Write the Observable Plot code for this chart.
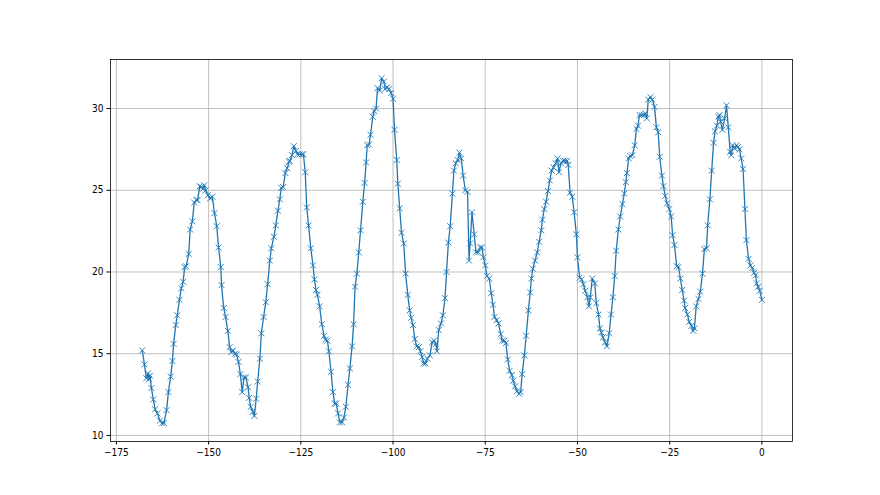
<!DOCTYPE html>
<html><head><meta charset="utf-8">
<script src="https://cdn.jsdelivr.net/npm/d3@7"></script>
<script src="https://cdn.jsdelivr.net/npm/@observablehq/plot@0.6"></script>
<style>
html,body{margin:0;padding:0;background:#fff;}
svg text{font-family:"DejaVu Sans Condensed","DejaVu Sans",sans-serif;font-stretch:condensed;}
</style></head><body><div id="chart"></div>
<script>
const hours = [
-168.0,-167.4,-166.9,-166.4,-166.2,-165.9,-165.5,-165.0,-164.5,-163.9,-163.2,-162.6,-162.1,-161.4,-160.9,-160.3,-159.8,-159.5,-158.9,-158.5,
-157.9,-157.4,-156.9,-156.5,-156.1,-155.4,-155.0,-154.4,-153.9,-153.3,-153.0,-152.4,-152.0,-151.5,-151.2,-150.8,-150.2,-149.6,-149.0,-148.4,
-147.8,-147.3,-146.7,-146.5,-145.9,-145.4,-144.8,-144.3,-143.8,-143.4,-142.8,-142.4,-141.9,-141.4,-140.9,-140.4,-139.9,-139.3,-139.0,-138.6,
-138.0,-137.6,-137.1,-136.7,-136.1,-135.7,-135.1,-134.5,-134.0,-133.4,-133.0,-132.3,-131.8,-131.2,-130.7,-130.3,-129.8,-129.2,-128.7,-128.2,
-128.0,-127.4,-126.9,-126.3,-125.9,-125.3,-124.7,-124.3,-123.8,-123.4,-122.9,-122.3,-121.7,-121.3,-120.9,-120.5,-119.9,-119.3,-118.7,-118.3,
-117.8,-117.4,-116.8,-116.3,-115.8,-115.4,-114.9,-114.4,-113.8,-113.3,-112.8,-112.2,-111.7,-111.1,-110.7,-110.3,-109.8,-109.3,-108.8,-108.2,
-107.7,-107.3,-107.0,-106.5,-106.1,-105.5,-105.1,-104.6,-104.2,-103.6,-103.1,-102.5,-102.1,-101.6,-101.1,-100.5,-100.0,-99.6,-99.0,-98.7,
-98.2,-97.7,-97.1,-96.6,-96.0,-95.5,-95.1,-94.6,-94.1,-93.6,-93.0,-92.6,-92.1,-91.7,-91.2,-90.7,-90.0,-89.4,-88.9,-88.4,
-88.1,-87.6,-87.0,-86.5,-85.9,-85.5,-85.0,-84.5,-83.9,-83.5,-83.0,-82.5,-82.0,-81.5,-81.0,-80.4,-79.8,-79.4,-79.1,-78.6,
-78.0,-77.5,-76.9,-76.4,-75.9,-75.5,-75.0,-74.5,-73.9,-73.4,-72.9,-72.5,-71.9,-71.4,-70.8,-70.4,-69.8,-69.4,-68.9,-68.4,
-67.8,-67.4,-66.9,-66.4,-65.8,-65.4,-65.0,-64.4,-63.9,-63.3,-62.8,-62.5,-62.1,-61.5,-60.9,-60.4,-59.8,-59.5,-59.0,-58.5,
-58.0,-57.5,-57.0,-56.5,-55.9,-55.4,-55.0,-54.5,-53.9,-53.4,-52.8,-52.5,-52.0,-51.4,-50.9,-50.3,-50.0,-49.4,-48.9,-48.4,
-47.9,-47.3,-46.9,-46.5,-46.0,-45.3,-44.9,-44.3,-43.9,-43.5,-43.1,-42.5,-42.0,-41.4,-40.9,-40.4,-39.9,-39.5,-38.9,-38.4,
-37.8,-37.3,-36.9,-36.6,-36.1,-35.7,-35.1,-34.5,-34.0,-33.6,-33.2,-32.6,-32.0,-31.6,-31.2,-30.8,-30.2,-29.7,-29.1,-28.6,
-28.1,-27.7,-27.1,-26.7,-26.2,-25.7,-25.1,-24.6,-24.2,-23.7,-23.1,-22.6,-22.1,-21.6,-21.1,-20.8,-20.2,-19.7,-19.1,-18.6,
-18.3,-17.8,-17.2,-16.7,-16.1,-15.6,-15.0,-14.7,-14.1,-13.6,-13.1,-12.7,-12.2,-11.8,-11.5,-11.2,-10.7,-10.1,-9.6,-9.1,
-8.6,-8.3,-7.9,-7.4,-6.9,-6.5,-6.1,-5.6,-5.1,-4.6,-4.2,-3.6,-3.1,-2.6,-2.1,-1.7,-1.4,-1.0,-0.6,0.0
];
const temps = [
15.2,14.35,13.5,13.8,13.45,13.65,12.9,12.2,11.6,11.35,10.9,10.75,10.75,11.55,12.65,13.6,14.55,15.6,16.75,17.35,
18.3,19.0,19.4,20.3,20.35,21.1,22.6,23.1,24.25,24.4,24.4,25.25,25.2,25.1,25.3,25.0,24.7,24.5,24.6,23.6,
22.8,21.5,20.3,19.2,17.8,17.25,16.4,15.4,15.1,15.2,15.0,14.95,14.5,13.75,12.65,13.55,13.55,12.95,12.3,11.75,
11.45,11.2,12.25,13.3,14.7,16.25,17.25,18.15,19.25,20.7,21.45,22.15,22.85,23.75,24.45,25.15,25.2,26.05,26.35,26.75,
26.8,27.15,27.7,27.4,27.2,27.2,27.2,27.2,26.1,23.95,22.85,21.45,20.4,19.55,18.9,18.6,17.9,16.8,16.1,15.85,
15.8,15.15,13.9,12.65,11.95,11.95,11.35,10.8,10.8,11.1,11.75,13.1,14.1,15.45,16.8,19.1,19.9,21.2,22.55,24.3,
25.45,26.7,27.75,27.8,28.4,29.5,29.85,30.0,31.25,31.1,31.85,31.65,31.2,31.3,31.2,30.95,30.6,28.7,26.85,25.4,
23.9,22.4,21.75,19.9,18.6,17.65,17.2,16.75,15.9,15.45,15.4,15.15,14.8,14.4,14.4,14.7,14.9,15.7,15.8,15.6,
15.15,16.45,16.85,17.35,18.4,20.0,21.8,22.8,24.8,26.2,26.65,26.85,27.3,26.95,25.9,25.0,24.9,20.7,21.75,23.65,
22.3,21.2,21.2,21.5,21.5,20.9,20.4,19.75,19.6,18.7,18.0,17.25,17.05,16.85,16.2,15.8,15.8,15.65,14.65,13.95,
13.7,13.35,13.0,12.7,12.55,12.65,13.75,14.9,16.1,17.65,18.75,19.6,20.2,20.7,21.2,21.85,22.55,23.2,23.85,24.3,
24.95,25.6,26.2,26.4,26.65,26.95,26.1,26.65,26.8,26.8,26.8,26.55,24.85,24.6,23.65,22.3,20.9,19.65,19.55,19.25,
18.85,18.45,17.9,18.45,19.6,19.3,18.1,17.4,16.55,16.3,16.0,15.7,15.45,16.25,17.4,18.45,19.75,21.3,22.6,23.4,
24.15,24.8,25.5,26.05,26.95,27.1,27.15,27.75,28.75,28.95,29.6,29.6,29.6,29.7,29.4,30.55,30.7,30.55,30.1,28.85,
28.55,27.05,25.9,25.25,24.65,24.2,23.85,23.4,22.25,21.65,20.35,20.3,19.6,18.9,18.25,17.8,17.4,16.95,16.7,16.4,
16.55,17.9,18.35,18.8,19.9,21.4,21.45,22.85,24.45,26.2,27.9,28.6,28.95,29.5,29.6,29.2,28.7,29.4,30.2,28.85,
27.35,27.15,27.75,27.55,27.75,27.65,27.5,26.95,26.3,23.85,21.95,20.8,20.4,20.25,19.95,19.8,19.3,19.1,18.85,18.3
];
const xTicks = [-175, -150, -125, -100, -75, -50, -25, 0];
const yTicks = [10, 15, 20, 25, 30];

const data = hours.map((h, i) => ({h, t: temps[i]}));
const font = '"DejaVu Sans Condensed","DejaVu Sans",sans-serif';
const chart = Plot.plot({
  width: 880,
  height: 495,
  marginLeft: 110,
  marginRight: 88,
  marginTop: 59,
  marginBottom: 54,
  style: {fontSize: "10px", fontFamily: font, background: "#fff", color: "#000"},
  x: {domain: [-176.6, 8.3], ticks: xTicks, tickSize: 3.5, tickPadding: 3.5, label: null},
  y: {domain: [9.63, 33.0], ticks: yTicks, tickSize: 3.5, tickPadding: 3.5, label: null},
  marks: [
    Plot.gridX(xTicks, {stroke: "#b0b0b0", strokeOpacity: 1, strokeWidth: 0.8}),
    Plot.gridY(yTicks, {stroke: "#b0b0b0", strokeOpacity: 1, strokeWidth: 0.8}),
    Plot.line(data, {x: "h", y: "t", stroke: "#1f77b4", strokeWidth: 1.3}),
    Plot.dot(data, {x: "h", y: "t", symbol: "times", r: 2.8, stroke: "#1f77b4", strokeWidth: 0.9}),
    Plot.frame({stroke: "#000", strokeWidth: 0.8})
  ]
});
document.getElementById("chart").appendChild(chart);
</script>
</body></html>
